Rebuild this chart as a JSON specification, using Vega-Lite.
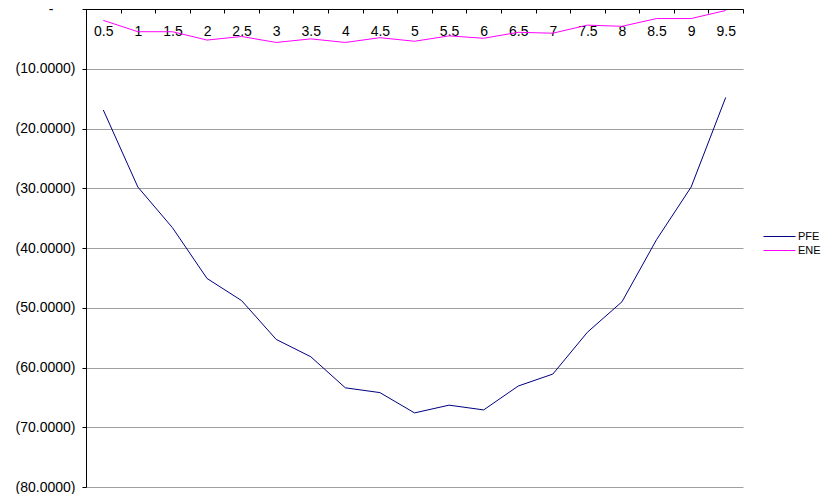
{
  "$schema": "https://vega.github.io/schema/vega-lite/v6.json",
  "autosize": "none",
  "padding": {"left": 86, "top": 9, "right": 82, "bottom": 7},
  "width": 657,
  "height": 478,
  "background": "white",
  "config": {"view": {"stroke": null}, "font": "Liberation Sans"},
  "data": {"values": [
    {"t": 0.5, "s": "PFE", "v": -16.9},
    {"t": 1, "s": "PFE", "v": -29.8},
    {"t": 1.5, "s": "PFE", "v": -36.6},
    {"t": 2, "s": "PFE", "v": -45.1},
    {"t": 2.5, "s": "PFE", "v": -48.8},
    {"t": 3, "s": "PFE", "v": -55.3},
    {"t": 3.5, "s": "PFE", "v": -58.2},
    {"t": 4, "s": "PFE", "v": -63.4},
    {"t": 4.5, "s": "PFE", "v": -64.2},
    {"t": 5, "s": "PFE", "v": -67.6},
    {"t": 5.5, "s": "PFE", "v": -66.3},
    {"t": 6, "s": "PFE", "v": -67.1},
    {"t": 6.5, "s": "PFE", "v": -63.1},
    {"t": 7, "s": "PFE", "v": -61.1},
    {"t": 7.5, "s": "PFE", "v": -54.1},
    {"t": 8, "s": "PFE", "v": -49.0},
    {"t": 8.5, "s": "PFE", "v": -38.6},
    {"t": 9, "s": "PFE", "v": -29.8},
    {"t": 9.5, "s": "PFE", "v": -14.8},
    {"t": 0.5, "s": "ENE", "v": -1.9},
    {"t": 1, "s": "ENE", "v": -3.8},
    {"t": 1.5, "s": "ENE", "v": -3.8},
    {"t": 2, "s": "ENE", "v": -5.2},
    {"t": 2.5, "s": "ENE", "v": -4.6},
    {"t": 3, "s": "ENE", "v": -5.6},
    {"t": 3.5, "s": "ENE", "v": -5.0},
    {"t": 4, "s": "ENE", "v": -5.6},
    {"t": 4.5, "s": "ENE", "v": -4.8},
    {"t": 5, "s": "ENE", "v": -5.4},
    {"t": 5.5, "s": "ENE", "v": -4.5},
    {"t": 6, "s": "ENE", "v": -4.9},
    {"t": 6.5, "s": "ENE", "v": -3.9},
    {"t": 7, "s": "ENE", "v": -4.05},
    {"t": 7.5, "s": "ENE", "v": -2.7},
    {"t": 8, "s": "ENE", "v": -2.9},
    {"t": 8.5, "s": "ENE", "v": -1.6},
    {"t": 9, "s": "ENE", "v": -1.6},
    {"t": 9.5, "s": "ENE", "v": -0.25}
  ]},
  "mark": {"type": "line", "strokeWidth": 1},
  "encoding": {
    "x": {
      "field": "t",
      "type": "ordinal",
      "bandPosition": 0.5,
      "scale": {"type": "band", "paddingInner": 0, "paddingOuter": 0},
      "axis": {
        "orient": "bottom",
        "offset": -478,
        "title": null,
        "labelAngle": 0,
        "tickBand": "extent",
        "domainColor": "black",
        "tickColor": "black",
        "tickSize": 4,
        "labelPadding": 11,
        "labelFontSize": 14,
        "labelColor": "black",
        "grid": false
      }
    },
    "y": {
      "field": "v",
      "type": "quantitative",
      "scale": {"domain": [-80, 0], "nice": false},
      "axis": {
        "values": [-80, -70, -60, -50, -40, -30, -20, -10, 0],
        "title": null,
        "labelExpr": "datum.value == 0 ? '-' : '(' + format(-datum.value, '.4f') + ')'",
        "gridColor": "#a0a0a0",
        "domainColor": "black",
        "tickColor": "black",
        "tickSize": 4,
        "labelPadding": {"condition": {"test": "datum.value == 0", "value": 29}, "value": 7},
        "labelFontSize": 14,
        "labelColor": "black"
      }
    },
    "color": {
      "field": "s",
      "type": "nominal",
      "scale": {"domain": ["PFE", "ENE"], "range": ["#000080", "#FF00FF"]},
      "legend": {
        "title": null,
        "orient": "none",
        "legendX": 685,
        "legendY": 219,
        "symbolType": "M-2,0H2",
        "symbolSize": 256,
        "symbolStrokeWidth": 1,
        "rowPadding": 0,
        "labelOffset": 10,
        "labelFontSize": 11,
        "labelFont": "Liberation Sans Narrow, Liberation Sans, Arial",
        "labelColor": "black"
      }
    }
  }
}
